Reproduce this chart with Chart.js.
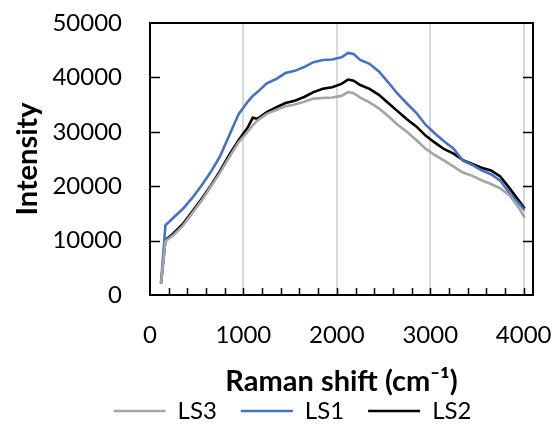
<!DOCTYPE html>
<html>
<head>
<meta charset="utf-8">
<script src="https://cdn.jsdelivr.net/npm/chart.js@4/dist/chart.umd.min.js"></script>
<style>
  html, body { margin: 0; padding: 0; background: #fff; }
  #wrap { width: 557px; height: 425px; }
</style>
</head>
<body>
<div id="wrap"><canvas id="raman_chart"></canvas></div>
<script>
// Raman shift (cm-1) sampled along each spectrum
const raman_shift = [118, 165, 250, 350, 450, 550, 650, 750, 850, 950, 1050, 1100, 1150,
  1250, 1350, 1450, 1550, 1650, 1750, 1850, 1950, 2050, 2120, 2180, 2250, 2350, 2450,
  2550, 2650, 2750, 2850, 2950, 3050, 3150, 3250, 3350, 3450, 3550, 3650, 3750, 3850,
  3950, 4010];

const ls1_intensity = [2150, 12800, 14200, 15800, 17800, 20100, 22600, 25500, 29400, 33300,
  35600, 36600, 37300, 38900, 39700, 40800, 41200, 41900, 42800, 43200, 43300, 43700,
  44500, 44300, 43200, 42500, 41100, 39100, 37000, 35200, 33500, 31300, 29700, 28200,
  26900, 24700, 23900, 22900, 22200, 21000, 18700, 16800, 15600];

const ls2_intensity = [2150, 10100, 11300, 13000, 15300, 17600, 20100, 22800, 25800, 28500,
  30900, 32600, 32400, 33600, 34500, 35300, 35700, 36400, 37300, 37900, 38200, 38800,
  39600, 39400, 38600, 37900, 36800, 35300, 33800, 32300, 31000, 29300, 28000, 26800,
  26000, 24800, 24100, 23400, 22900, 21800, 19600, 17300, 15900];

const ls3_intensity = [2150, 9900, 11000, 12700, 15000, 17300, 19900, 22500, 25400, 28100,
  30100, 31200, 32100, 33300, 34000, 34700, 35000, 35500, 36100, 36200, 36300, 36600,
  37300, 37100, 36300, 35400, 34300, 32900, 31300, 30000, 28500, 26900, 25700, 24700,
  23600, 22500, 21900, 21100, 20400, 19600, 18300, 16000, 14200];

const y_ticks = [0, 10000, 20000, 30000, 40000, 50000];
const x_labels = [0, 1000, 2000, 3000, 4000];

const FONT = "Lato, 'Noto Sans', 'DejaVu Sans', sans-serif";

function to_points(values) {
  return values.map((v, i) => ({ x: raman_shift[i], y: v }));
}

// frame and inward tick marks, Excel style
const frame_plugin = {
  id: "frame",
  afterLayout(chart) {
    // nudge the legend row a bit to the right
    chart.legend.left += 21;
    chart.legend.right += 21;
  },
  afterDatasetsDraw(chart) {
    const { ctx, chartArea: a, scales } = chart;
    ctx.save();
    ctx.strokeStyle = "#000";
    ctx.lineWidth = 2;
    ctx.strokeRect(a.left, a.top, a.right - a.left, a.bottom - a.top);
    ctx.lineWidth = 1.5;
    ctx.beginPath();
    for (let v = 200; v <= 4000; v += 200) {
      const px = Math.round(scales.x.getPixelForValue(v)) + 0.5;
      ctx.moveTo(px, a.bottom);
      ctx.lineTo(px, a.bottom - 7);
    }
    y_ticks.slice(1, -1).forEach((v) => {
      const py = Math.round(scales.y.getPixelForValue(v)) + 0.5;
      ctx.moveTo(a.left, py);
      ctx.lineTo(a.left + 10, py);
      ctx.moveTo(a.right, py);
      ctx.lineTo(a.right - 10, py);
    });
    ctx.stroke();
    ctx.restore();
  },
};

const raman_chart = new Chart(document.getElementById("raman_chart"), {
  type: "line",
  data: {
    datasets: [
      { label: "LS3", data: to_points(ls3_intensity), borderColor: "#a5a5a5", backgroundColor: "#a5a5a5" },
      { label: "LS1", data: to_points(ls1_intensity), borderColor: "#4472c4", backgroundColor: "#4472c4" },
      { label: "LS2", data: to_points(ls2_intensity), borderColor: "#000000", backgroundColor: "#000000" },
    ],
  },
  options: {
    responsive: true,
    maintainAspectRatio: false,
    animation: false,
    layout: { padding: { top: 23, right: 24, left: 10, bottom: -8 } },
    elements: {
      line: { borderWidth: 2.6, tension: 0 },
      point: { radius: 0 },
    },
    plugins: {
      legend: {
        position: "bottom",
        labels: {
          boxWidth: 52,
          boxHeight: 0,
          padding: 24,
          color: "#000",
          font: { family: FONT, size: 24 },
        },
      },
      tooltip: { enabled: false },
    },
    scales: {
      x: {
        type: "linear",
        min: 0,
        max: 4100,
        afterBuildTicks: (scale) => {
          scale.ticks = x_labels.map((v) => ({ value: v }));
        },
        ticks: {
          padding: 26,
          color: "#000",
          font: { family: FONT, size: 24 },
          maxRotation: 0,
          callback: (v) => v,
        },
        grid: {
          drawTicks: false,
          lineWidth: 2,
          color: (c) => (c.tick && c.tick.value > 0 ? "#d9d9d9" : "rgba(0,0,0,0)"),
        },
        border: { display: false },
        title: {
          display: true,
          text: "Raman shift (cm⁻¹)",
          color: "#000",
          font: { family: FONT, size: 29, weight: "bold" },
          padding: { top: 0, bottom: -24 },
        },
        afterFit: (scale) => {
          scale.height = 80;
          scale.paddingLeft = 0;
          scale.paddingRight = 0;
        },
      },
      y: {
        min: 0,
        max: 50000,
        afterBuildTicks: (scale) => {
          scale.ticks = y_ticks.map((v) => ({ value: v }));
        },
        ticks: {
          padding: 28,
          color: "#000",
          font: { family: FONT, size: 24 },
          callback: (v) => v,
        },
        grid: { display: false, drawTicks: false },
        border: { display: false },
        title: {
          display: true,
          text: "Intensity",
          color: "#000",
          font: { family: FONT, size: 29, weight: "bold" },
          padding: { top: 0, bottom: 0 },
        },
        afterFit: (scale) => {
          scale.width = 140;
          scale.paddingTop = 0;
          scale.paddingBottom = 0;
        },
      },
    },
  },
  plugins: [frame_plugin],
});
</script>
</body>
</html>
